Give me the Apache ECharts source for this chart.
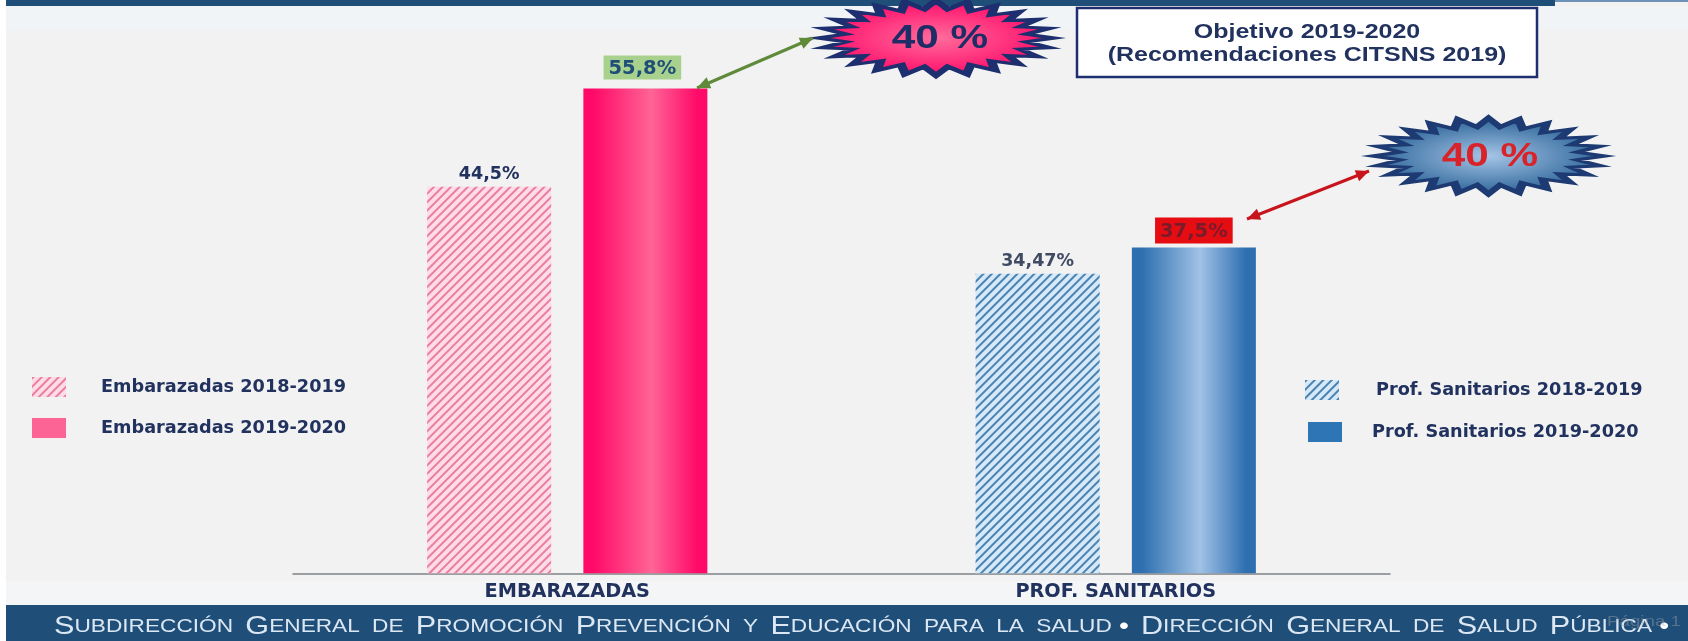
<!DOCTYPE html>
<html><head><meta charset="utf-8">
<style>html,body{margin:0;padding:0;background:#fff}#c{width:1688px;height:641px}</style>
<script src="https://cdn.jsdelivr.net/npm/echarts@6/dist/echarts.min.js"></script>
</head><body><div id="c"></div>
<script>
const categories = ['EMBARAZADAS', 'PROF. SANITARIOS'];
const emb1819 = [44.5, null];
const emb1920 = [55.8, null];
const prof1819 = [null, 34.47];
const prof1920 = [null, 37.5];
const seriesNames = ['Embarazadas 2018-2019','Embarazadas 2019-2020','Prof. Sanitarios 2018-2019','Prof. Sanitarios 2019-2020'];
const targetLabel = '40 %';
const boxLines = ['Objetivo 2019-2020','(Recomendaciones CITSNS 2019)'];

const FONT = '"DejaVu Sans"';
const ARIAL = '"Liberation Sans"';
const NAVY = '#22325f';
const chart = echarts.init(document.getElementById('c'), null, {renderer:'canvas'});

const hatch = (bg, line) => ({color:bg, decal:{symbol:'rect', symbolSize:1, dashArrayX:[1,0], dashArrayY:[2,3.4], rotation:-Math.PI/4, color:line}});
const grad = (e, m) => ({color:{type:'linear',x:0,y:0,x2:1,y2:0,colorStops:[{offset:0,color:e},{offset:0.08,color:e},{offset:0.55,color:m},{offset:0.92,color:e},{offset:1,color:e}]}});
const fmt = v => String(v).replace('.', ',') + '%';
const plainLabel = {show:true, position:'top', distance:3, fontFamily:FONT, fontWeight:'bold', fontSize:17.5, color:NAVY, formatter:p => fmt(p.value)};

function star(r, n, inner){
  const pts = [];
  for (let i=0;i<n*2;i++){
    const a = Math.PI*i/n, k = i%2 ? inner : 1;
    pts.push([r*k*Math.cos(a), r*k*Math.sin(a)]);
  }
  return pts;
}
function burst(cx, cy, rx, ry, stroke, c0, c1){
  return {type:'polygon',z:10,x:cx,y:cy,scaleX:rx/ry,shape:{points:star(ry,24,0.77)},
    style:{stroke,lineWidth:3,lineJoin:'miter',strokeNoScale:true,
      fill:{type:'radial',x:0.5,y:0.5,r:0.5,colorStops:[{offset:0,color:c0},{offset:1,color:c1}]}}};
}
function arrow(x1,y1,x2,y2,color){
  const a = Math.atan2(y2-y1,x2-x1), s=13, w=6;
  const head = (x,y,t)=>[[x,y],[x-s*Math.cos(t)+w*Math.sin(t),y-s*Math.sin(t)-w*Math.cos(t)],[x-s*Math.cos(t)-w*Math.sin(t),y-s*Math.sin(t)+w*Math.cos(t)]];
  return [
    {type:'line',z:20,shape:{x1,y1,x2,y2},style:{stroke:color,lineWidth:3}},
    {type:'polygon',z:20,shape:{points:head(x2,y2,a)},style:{fill:color}},
    {type:'polygon',z:20,shape:{points:head(x1,y1,a+Math.PI)},style:{fill:color}}
  ];
}
const sc = (txt) => txt.split(' ').map(w => w.toLowerCase()===w ? '{s|'+w.toUpperCase()+'}' : '{b|'+w[0]+'}{s|'+w.slice(1).toUpperCase()+'}').join('{g| }');
const footerText = sc('Subdirección General de Promoción Prevención y Educación para la salud') + '{d| •}{g| }' + sc('Dirección General de Salud Pública') + '{d| •}';

const graphic = [
  {type:'rect',z:0,shape:{x:0,y:0,width:6,height:641},style:{fill:'#ffffff'}},
  {type:'rect',z:0,shape:{x:6,y:0,width:1682,height:2},style:{fill:'#6f93b8'}},
  {type:'rect',z:1,shape:{x:6,y:0,width:1549,height:6},style:{fill:'#1f4e79'}},
  {type:'rect',z:0,shape:{x:6,y:7,width:1682,height:23},style:{fill:'#f1f4f7'}},
  {type:'rect',z:0,shape:{x:6,y:581,width:1682,height:24},style:{fill:'#f3f5f7'}},
  {type:'rect',z:1,shape:{x:6,y:605,width:1682,height:36},style:{fill:'#1f4e79'}},
  {type:'text',z:2,x:54,y:627,scaleX:1.225,style:{text:footerText,verticalAlign:'middle',fill:'#dbe7f2',fontFamily:ARIAL,
    rich:{b:{fontSize:25,fill:'#dbe7f2',fontFamily:ARIAL},s:{fontSize:18.5,fill:'#dbe7f2',fontFamily:ARIAL},g:{fontSize:36,fill:'#dbe7f2',fontFamily:ARIAL},d:{fontSize:22,fill:'#ffffff',fontWeight:'bold'}}}},
  {type:'text',z:3,x:1607,y:622,scaleX:1.25,style:{text:'Página 1',fontFamily:ARIAL,fontSize:15,verticalAlign:'middle',fill:'rgba(170,170,170,0.4)'}},
  burst(936,38,118,37.5,'#1d2f6f','#ff6c9c','#ff0a68'),
  {type:'text',z:11,x:940,y:39,scaleX:1.28,style:{text:targetLabel,align:'center',verticalAlign:'middle',fontFamily:ARIAL,fontWeight:'bold',fontSize:33,fill:'#1f2c66'}},
  burst(1488.5,156,116,38,'#1d3a72','#a5c5e6','#2a6297'),
  {type:'text',z:11,x:1490,y:157,scaleX:1.28,style:{text:targetLabel,align:'center',verticalAlign:'middle',fontFamily:ARIAL,fontWeight:'bold',fontSize:33,fill:'#d8232a'}},
  {type:'rect',z:10,shape:{x:1077,y:8,width:460,height:69},style:{fill:'#ffffff',stroke:'#1d2f6f',lineWidth:2.5}},
  {type:'text',z:11,x:1307,y:32,scaleX:1.25,style:{text:boxLines[0],align:'center',verticalAlign:'middle',fontFamily:ARIAL,fontWeight:'bold',fontSize:20,fill:NAVY}},
  {type:'text',z:11,x:1307,y:55,scaleX:1.25,style:{text:boxLines[1],align:'center',verticalAlign:'middle',fontFamily:ARIAL,fontWeight:'bold',fontSize:20,fill:NAVY}},
  ...arrow(697,88,813,38,'#5f8a3a'),
  ...arrow(1247,219,1369,171,'#c8141c')
];

const L = (i,left,top,gap,st,pad) => ({
  show:true, left, top, orient:'vertical', selectedMode:false, icon:'rect', itemWidth:34, itemHeight:20, padding:0,
  data:[{name:seriesNames[i], itemStyle:st}],
  textStyle:{fontFamily:FONT,fontWeight:'bold',fontSize:17.7,color:NAVY,padding:pad.concat([gap])}
});
chart.setOption({
  animation:false,
  backgroundColor:'#f2f2f2',
  graphic,
  legend:[
    L(0,32,377,30,{},[3,0,0]),
    L(1,32,418,30,{color:'#fb6495',decal:'none'},[3,0,0]),
    L(2,1305,380,32,{},[0,0,8]),
    L(3,1308,422,25,{color:'#2e75b6',decal:'none'},[0,0,10])
  ],
  grid:{left:293,top:52,width:1097,height:521.3,containLabel:false},
  xAxis:{type:'category',data:categories,
    axisTick:{show:false},
    axisLine:{lineStyle:{color:'#7f8285',width:1.5}},
    axisLabel:{fontFamily:FONT,fontWeight:'bold',fontSize:19.3,color:NAVY,margin:9}},
  yAxis:{type:'value',min:0,max:60,show:false},
  series:[
    {name:seriesNames[0],type:'bar',stack:'first',barWidth:124,barGap:'26%',data:emb1819,itemStyle:hatch('#ffdce8','#ea7e9f'),label:plainLabel},
    {name:seriesNames[1],type:'bar',stack:'second',barWidth:124,data:emb1920,itemStyle:grad('#ff0a68','#ff6496'),
      label:{...plainLabel,fontSize:19.5,distance:9,offset:[-3,0],backgroundColor:'#a9d18e',padding:[3,5,1,5],color:'#1f4e79'}},
    {name:seriesNames[2],type:'bar',stack:'first',barWidth:124,data:prof1819,itemStyle:hatch('#d6e9f8','#4a82b0'),label:{...plainLabel,color:'#3f4a63'}},
    {name:seriesNames[3],type:'bar',stack:'second',barWidth:124,data:prof1920,itemStyle:grad('#2e6fb0','#a0c2e5'),
      label:{...plainLabel,fontSize:19.5,distance:4,backgroundColor:'#e60d12',padding:[4,5,2,5],color:'#7a1a2a'}}
  ]
});
</script></body></html>
